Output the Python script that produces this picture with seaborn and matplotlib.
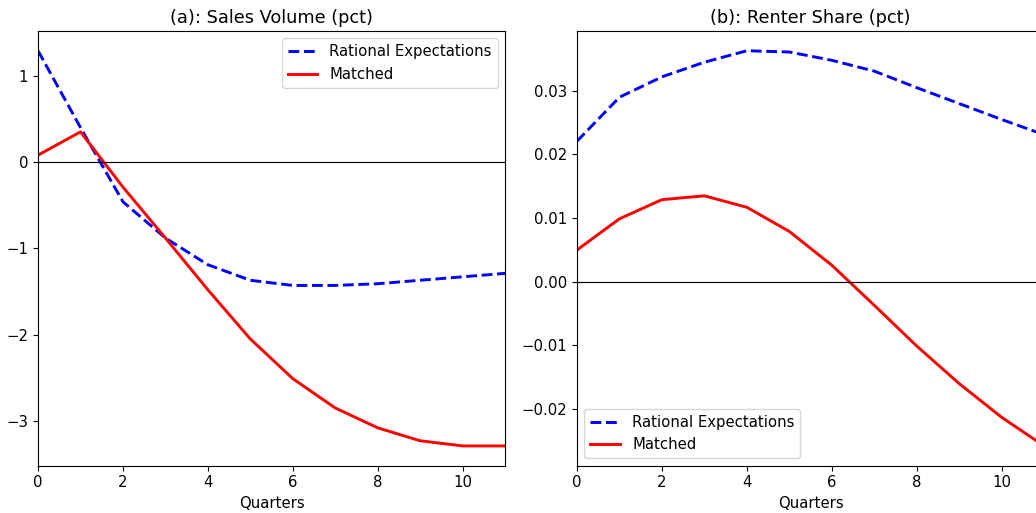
import matplotlib
matplotlib.use('Agg')
import matplotlib.pyplot as plt
import pandas as pd
import seaborn as sns

# quarters after the shock
quarters = list(range(12))

# (a) sales volume, pct
sales_re = [1.29, 0.40, -0.46, -0.88, -1.19, -1.37, -1.43, -1.43, -1.41, -1.37, -1.33, -1.29]
sales_matched = [0.08, 0.35, -0.29, -0.88, -1.48, -2.05, -2.51, -2.85, -3.08, -3.23, -3.29, -3.29]

# (b) renter share, pct
renter_re = [0.0221, 0.0290, 0.0322, 0.0345, 0.0363, 0.0361, 0.0348, 0.0331, 0.0305, 0.0280, 0.0255, 0.0231]
renter_matched = [0.0050, 0.0099, 0.0129, 0.0135, 0.0117, 0.0079, 0.0026, -0.0037, -0.0101, -0.0160, -0.0213, -0.0258]

plt.rcParams['font.size'] = 10.7

fig = plt.figure(figsize=(10.36, 5.13), dpi=100)
ax1 = fig.add_axes([0.0367, 0.0922, 0.4508, 0.8474])
ax2 = fig.add_axes([0.557, 0.0922, 0.4508, 0.8474])

panels = [
    (ax1, sales_re, sales_matched, '(a): Sales Volume (pct)', 'upper right'),
    (ax2, renter_re, renter_matched, '(b): Renter Share (pct)', 'lower left'),
]

for ax, re_vals, m_vals, title, loc in panels:
    df = pd.DataFrame({'Quarters': quarters, 're': re_vals, 'matched': m_vals})
    sns.lineplot(data=df, x='Quarters', y='re', ax=ax, color='blue', linestyle='--',
                 linewidth=2.1, label='Rational Expectations')
    sns.lineplot(data=df, x='Quarters', y='matched', ax=ax, color='red',
                 linewidth=2.1, label='Matched')
    ax.axhline(0, color='black', linewidth=0.85)
    ax.set_xlim(0, 11)
    ax.set_ylabel('')
    ax.set_xlabel('Quarters')
    ax.set_title(title, fontsize=12.8)
    ax.legend(loc=loc)

plt.savefig('out.png', dpi=100)
